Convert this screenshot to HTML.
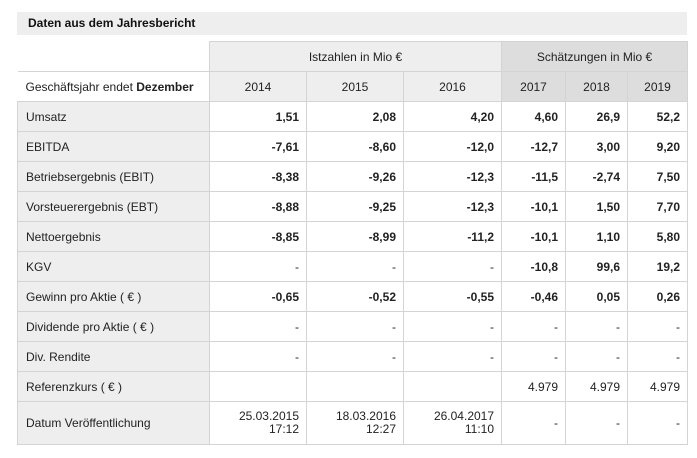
<!DOCTYPE html>
<html><head><meta charset="utf-8">
<style>
body{margin:0;background:#fff;width:697px;height:458px;overflow:hidden;font-family:"Liberation Sans",Arial,sans-serif;font-size:12px;color:#222}
.title{position:absolute;left:17px;top:12px;width:670px;height:23px;background:#eee;font-weight:bold;line-height:23px;box-sizing:border-box;padding-left:11px;font-size:12px;color:#111}
table{position:absolute;left:17px;top:41px;border-collapse:collapse;table-layout:fixed;width:670px}
td{border:1px solid #d4d4d4;padding:0 7px;height:29px;text-align:right;font-weight:bold;background:#fff;white-space:nowrap}
td.l{background:#eee;text-align:left;font-weight:normal;padding-left:8px}
tr.h td{background:#eee;text-align:center;font-weight:normal}
tr.h td.e{background:#ddd}
tr.h td.blank{background:#fff;border-left:none;border-top:none}
tr.h td.lab{background:#fff;text-align:left;border-left:none}
td.n{font-weight:normal}
tr.d td{height:42px;line-height:13px}
</style></head><body>
<div class="title">Daten aus dem Jahresbericht</div>
<table>
<colgroup><col style="width:192px"><col style="width:97px"><col style="width:97px"><col style="width:98px"><col style="width:64px"><col style="width:62px"><col style="width:60px"></colgroup>
<tr class="h"><td class="blank"></td><td colspan="3">Istzahlen in Mio €</td><td colspan="3" class="e">Schätzungen in Mio €</td></tr>
<tr class="h"><td class="lab" style="padding-left:8px">Geschäftsjahr endet <b>Dezember</b></td><td>2014</td><td>2015</td><td>2016</td><td class="e">2017</td><td class="e">2018</td><td class="e">2019</td></tr>
<tr><td class="l">Umsatz</td><td>1,51</td><td>2,08</td><td>4,20</td><td>4,60</td><td>26,9</td><td>52,2</td></tr>
<tr><td class="l">EBITDA</td><td>-7,61</td><td>-8,60</td><td>-12,0</td><td>-12,7</td><td>3,00</td><td>9,20</td></tr>
<tr><td class="l">Betriebsergebnis (EBIT)</td><td>-8,38</td><td>-9,26</td><td>-12,3</td><td>-11,5</td><td>-2,74</td><td>7,50</td></tr>
<tr><td class="l">Vorsteuerergebnis (EBT)</td><td>-8,88</td><td>-9,25</td><td>-12,3</td><td>-10,1</td><td>1,50</td><td>7,70</td></tr>
<tr><td class="l">Nettoergebnis</td><td>-8,85</td><td>-8,99</td><td>-11,2</td><td>-10,1</td><td>1,10</td><td>5,80</td></tr>
<tr><td class="l">KGV</td><td class="n">-</td><td class="n">-</td><td class="n">-</td><td>-10,8</td><td>99,6</td><td>19,2</td></tr>
<tr><td class="l">Gewinn pro Aktie ( € )</td><td>-0,65</td><td>-0,52</td><td>-0,55</td><td>-0,46</td><td>0,05</td><td>0,26</td></tr>
<tr><td class="l">Dividende pro Aktie ( € )</td><td class="n">-</td><td class="n">-</td><td class="n">-</td><td class="n">-</td><td class="n">-</td><td class="n">-</td></tr>
<tr><td class="l">Div. Rendite</td><td class="n">-</td><td class="n">-</td><td class="n">-</td><td class="n">-</td><td class="n">-</td><td class="n">-</td></tr>
<tr><td class="l">Referenzkurs ( € )</td><td></td><td></td><td></td><td class="n">4.979</td><td class="n">4.979</td><td class="n">4.979</td></tr>
<tr class="d"><td class="l">Datum Veröffentlichung</td><td class="n">25.03.2015<br>17:12</td><td class="n">18.03.2016<br>12:27</td><td class="n">26.04.2017<br>11:10</td><td class="n">-</td><td class="n">-</td><td class="n">-</td></tr>
</table>
</body></html>
